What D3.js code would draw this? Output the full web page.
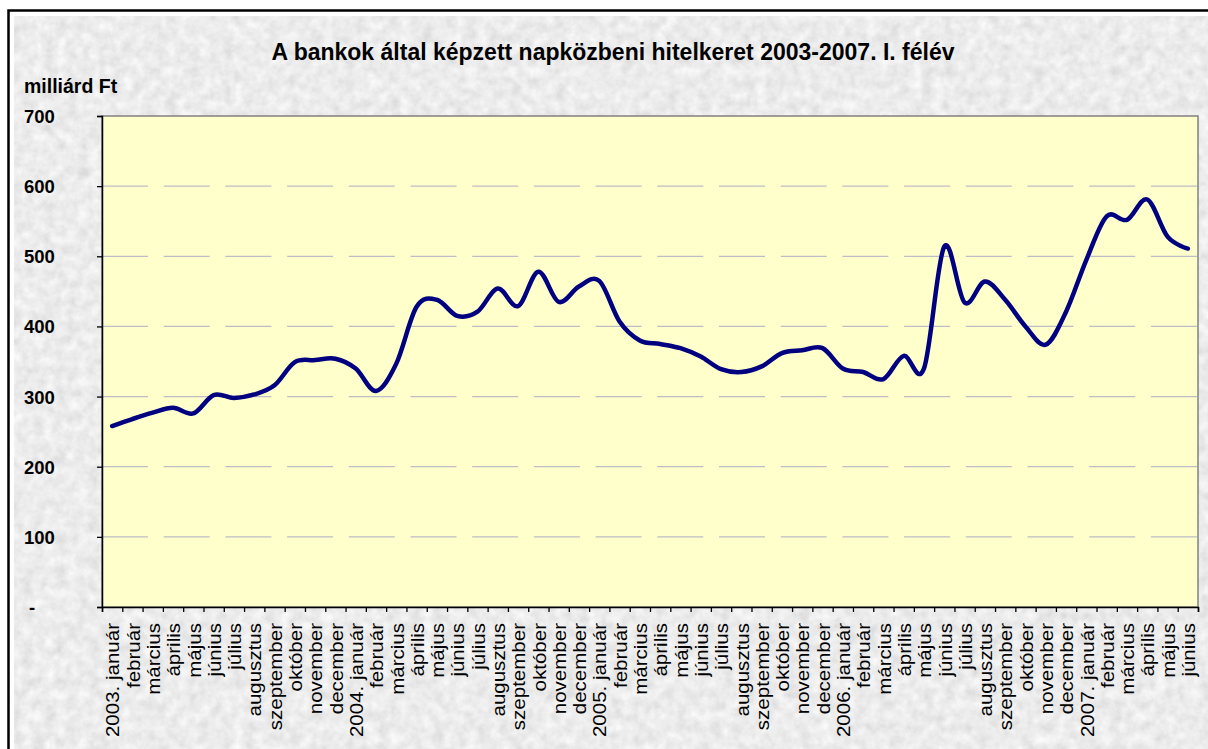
<!DOCTYPE html>
<html>
<head>
<meta charset="utf-8">
<script src="https://cdn.jsdelivr.net/npm/d3@7"></script>
<style>
  body { margin: 0; background: #fff; }
  text { font-family: Arial, "Liberation Sans", sans-serif; }
</style>
</head>
<body>
<div id="chart"></div>
<script>
// havi napközbeni hitelkeret, milliárd Ft (leolvasva)
var years = ["2003", "2004", "2005", "2006", "2007"];
var monthNames = ["január", "február", "március", "április", "május", "június",
  "július", "augusztus", "szeptember", "október", "november", "december"];
var values2003 = [258, 268, 277, 284, 276, 302, 298, 303, 316, 349, 352, 354];
var values2004 = [340, 308, 347, 428, 438, 415, 421, 454, 429, 478, 435, 457];
var values2005 = [465, 407, 380, 375, 369, 357, 339, 335, 343, 362, 366, 369];
var values2006 = [340, 335, 325, 358, 340, 514, 434, 464, 438, 400, 374, 421];
var values2007 = [495, 557, 552, 581, 528, 511];
var yTicks = [0, 100, 200, 300, 400, 500, 600, 700];

var title = "A bankok által képzett napközbeni hitelkeret 2003-2007. I. félév";
var unitLabel = "milliárd Ft";

var series = [values2003, values2004, values2005, values2006, values2007];
var data = [];
series.forEach(function (vals, yi) {
  vals.forEach(function (v, m) {
    var label = m == 0 ? years[yi] + ". " + monthNames[m] : monthNames[m];
    data.push({ label: label, value: v });
  });
});

var W = 1208, H = 749;
var margin = { top: 116, right: 10, bottom: 142, left: 102 };

var svg = d3.select("#chart").append("svg")
  .attr("width", W)
  .attr("height", H);

// gránit háttér
var defs = svg.append("defs");
var f = defs.append("filter").attr("id", "granite")
  .attr("x", 0).attr("y", 0).attr("width", "100%").attr("height", "100%");
f.append("feTurbulence").attr("type", "fractalNoise")
  .attr("baseFrequency", 0.09).attr("numOctaves", 4).attr("seed", 7);
f.append("feColorMatrix").attr("type", "saturate").attr("values", 0);
var ct = f.append("feComponentTransfer");
["feFuncR", "feFuncG", "feFuncB"].forEach(function (fn) {
  ct.append(fn).attr("type", "linear").attr("slope", 0.42).attr("intercept", 0.63);
});
ct.append("feFuncA").attr("type", "table").attr("tableValues", "1 1");

svg.append("rect")
  .attr("x", 8.5).attr("y", 10.5)
  .attr("width", W).attr("height", H)
  .attr("fill", "#fff")
  .attr("stroke", "#000")
  .attr("stroke-width", 2.5);

svg.append("rect")
  .attr("x", 14).attr("y", 16)
  .attr("width", W - 14).attr("height", H - 16)
  .attr("filter", "url(#granite)");

var x0 = margin.left, x1 = W - margin.right;
var y0 = H - margin.bottom, y1 = margin.top;

var x = d3.scaleLinear().domain([0, data.length]).range([x0, x1]);
var y = d3.scaleLinear().domain([0, 700]).range([y0, y1]);

// rajzterület
svg.append("rect")
  .attr("x", x0).attr("y", y1)
  .attr("width", x1 - x0).attr("height", y0 - y1)
  .attr("fill", "#ffffcc")
  .attr("stroke", "#808080")
  .attr("stroke-width", 1.5);

// rácsvonalak
svg.append("g").selectAll("line")
  .data(yTicks.filter(function (d) { return d > 0 && d < 700; }))
  .enter().append("line")
  .attr("x1", x0).attr("x2", x1)
  .attr("y1", function (d) { return y(d); })
  .attr("y2", function (d) { return y(d); })
  .attr("stroke", "#bdbdc6")
  .attr("stroke-width", 1.2)
  .attr("stroke-dasharray", "46,15.7");

// y tengely
var yAxis = svg.append("g")
  .attr("transform", "translate(" + x0 + ",0)")
  .call(d3.axisLeft(y).tickValues(yTicks).tickSize(5).tickPadding(0)
    .tickFormat(function (d) { return d == 0 ? "-" : d; }));
yAxis.select(".domain").attr("stroke", "#000").attr("stroke-width", 1.5);
yAxis.selectAll(".tick line").attr("stroke", "#000").attr("stroke-width", 1.3);
yAxis.selectAll(".tick text")
  .attr("text-anchor", "start")
  .attr("x", function (d) { return d == 0 ? 29 - x0 : 24 - x0; })
  .attr("dy", "0.35em")
  .attr("fill", "#000")
  .style("font-size", "18.5px")
  .style("font-weight", "bold");

// x tengely: osztások a hónapok határain
var xAxis = svg.append("g")
  .attr("transform", "translate(0," + y0 + ")")
  .call(d3.axisBottom(x).tickValues(d3.range(data.length + 1)).tickSize(5)
    .tickFormat(""));
xAxis.select(".domain").attr("stroke", "#000").attr("stroke-width", 1.5);
xAxis.selectAll(".tick line").attr("stroke", "#000").attr("stroke-width", 1.3);

// a hónapnevek kissé megnyújtva, mint az eredetin
svg.append("g").selectAll("text")
  .data(data)
  .enter().append("text")
  .attr("transform", function (d, i) {
    return "translate(" + x(i + 0.5) + "," + (y0 + 16) + ") rotate(-90) scale(1.08,1)";
  })
  .attr("text-anchor", "end")
  .attr("dy", "0.38em")
  .style("font-size", "19px")
  .attr("fill", "#000")
  .text(function (d) { return d.label; });

// görbe
var line = d3.line()
  .x(function (d, i) { return x(i + 0.5); })
  .y(function (d) { return y(d.value); })
  .curve(d3.curveCatmullRom.alpha(0));

svg.append("path")
  .datum(data)
  .attr("d", line)
  .attr("fill", "none")
  .attr("stroke", "#000080")
  .attr("stroke-width", 4.5)
  .attr("stroke-linecap", "round")
  .attr("stroke-linejoin", "round");

// feliratok
svg.append("text")
  .attr("x", 613).attr("y", 60)
  .attr("text-anchor", "middle")
  .style("font-size", "23px")
  .style("font-weight", "bold")
  .text(title);

svg.append("text")
  .attr("x", 24).attr("y", 93)
  .style("font-size", "19.5px")
  .style("font-weight", "bold")
  .text(unitLabel);
</script>
</body>
</html>
